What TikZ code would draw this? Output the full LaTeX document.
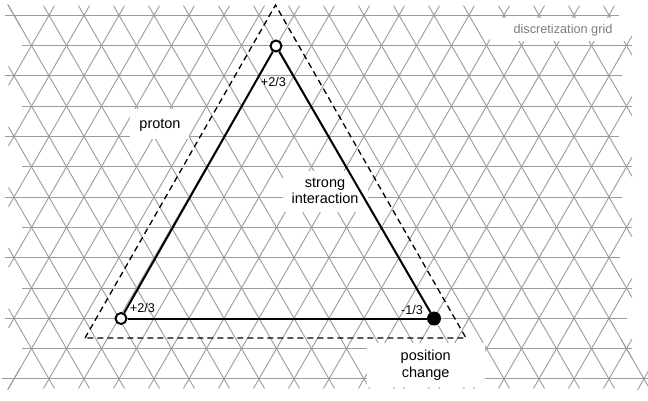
\documentclass[tikz,border=0pt]{standalone}
\usepackage{fontspec}
\setmainfont{Liberation Sans}
\begin{document}
\begin{tikzpicture}[x=1pt,y=-1pt]
\definecolor{gridgray}{RGB}{155,155,155}
\definecolor{labelgray}{RGB}{125,125,125}
\tikzset{
  gridline/.style={draw=gridgray, line width=0.9pt},
  stub/.style={gridline, shorten <=-11pt, shorten >=-11pt},
  maskbox/.style={fill=white, draw=none},
  tri/.style={draw=black, line width=2pt, line join=round},
  dashtri/.style={draw=black, line width=1.3pt, dash pattern=on 6pt off 4pt},
  hollowpt/.style={circle, draw=black, line width=2pt, fill=white, minimum size=11pt, inner sep=0pt},
  filledpt/.style={circle, fill=black, draw=none, minimum size=14pt, inner sep=0pt},
  lbl/.style={font=\fontsize{14.5}{17}\selectfont, inner sep=0pt, anchor=base},
  chargelbl/.style={font=\fontsize{12.7}{15}\selectfont, inner sep=0pt, anchor=base},
}
\useasboundingbox (0,0) rectangle (648,401);
\fill[white] (0,0) rectangle (648,401);
% horizontal grid lines
\foreach \j/\xa/\xb in {0/5/619, 1/22/632, 2/5/622, 3/22/632, 4/5/619, 5/22/632, 6/5/622, 7/22/632, 8/5/620, 9/22/632, 10/5/627, 11/22/632, 12/2/648} {
  \pgfmathsetmacro\yy{15.2+30.31*\j}
  \draw[gridline] (\xa,\yy) -- (\xb,\yy);
}
% diagonals going down-right
\foreach \d in {-10,-8,...,34} {
  \pgfmathtruncatemacro\ja{max(0,-\d)}
  \pgfmathtruncatemacro\jb{min(12,35-\d)}
  \pgfmathsetmacro\xa{14+17.5*(\d+\ja)}
  \pgfmathsetmacro\ya{15.2+30.31*\ja}
  \pgfmathsetmacro\xb{14+17.5*(\d+\jb)}
  \pgfmathsetmacro\yb{15.2+30.31*\jb}
  \draw[stub] (\xa,\ya) -- (\xb,\yb);
}
% diagonals going down-left
\foreach \s in {2,4,...,46} {
  \pgfmathtruncatemacro\ja{max(0,\s-35)}
  \pgfmathtruncatemacro\jb{min(12,\s)}
  \pgfmathsetmacro\xa{14+17.5*(\s-\ja)}
  \pgfmathsetmacro\ya{15.2+30.31*\ja}
  \pgfmathsetmacro\xb{14+17.5*(\s-\jb)}
  \pgfmathsetmacro\yb{15.2+30.31*\jb}
  \draw[stub] (\xa,\ya) -- (\xb,\yb);
}
% single-vertex stubs and extra vertex
\draw[gridline] (7.6,4.2) -- (20.4,26.2);
\draw[gridline] (7.6,389.9) -- (20.4,367.9);
\draw[stub] (626.5,348.7) -- (644,379.0);
\draw[gridline] (650,368) -- (637.6,390);
% label masks
\fill[maskbox] (130,109) rectangle (189,139);
\fill[maskbox] (283,171) rectangle (368,212);
\fill[maskbox] (367,343) rectangle (485,387);
\fill[maskbox] (490,18) rectangle (628,41);
% dashed outer triangle
\coordinate (dl) at (85,338);
\coordinate (dt) at (275.5,5);
\coordinate (dr) at (466,338);
\draw[dashtri] (dl) -- (dt) -- (dr) -- cycle;
% solid triangle
\node[hollowpt] (top) at (276,46) {};
\node[hollowpt] (bl) at (121,318.5) {};
\node[filledpt] (br) at (434,318.5) {};
\draw[tri] (bl) -- (top);
\draw[tri] (top) -- (br);
\draw[tri] (br) -- (bl);
% labels
\node[chargelbl] (ctop) at (273.5,86.5) {+2/3};
\node[chargelbl] (cbl) at (142.5,312.5) {+2/3};
\node[chargelbl] (cbr) at (412,314.5) {-1/3};
\node[lbl] (proton) at (160,129) {proton};
\node[lbl] (strong) at (325,187) {strong};
\node[lbl] (inter) at (325,204) {interaction};
\node[lbl] (pos) at (425.7,360) {position};
\node[lbl] (chg) at (425.7,377) {change};
\node[chargelbl, text=labelgray] (gridlbl) at (563,33.5) {discretization grid};
\end{tikzpicture}
\end{document}
